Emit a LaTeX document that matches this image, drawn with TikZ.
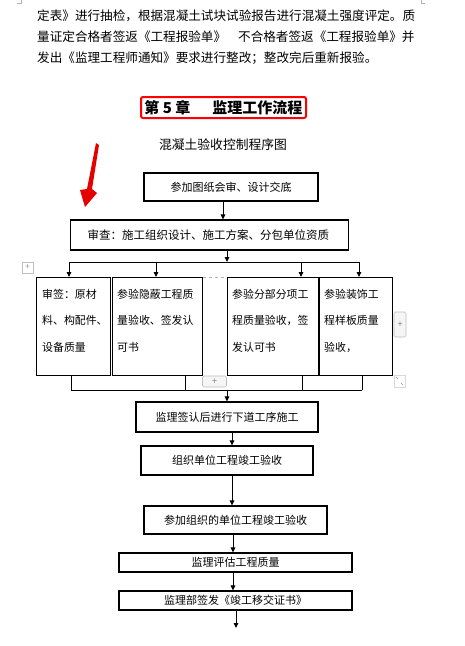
\documentclass[tikz,border=0pt]{standalone}
\usepackage{fontspec}
\setmainfont{Noto Sans CJK SC}
\usetikzlibrary{arrows.meta}
\tikzset{
  box/.style={draw=black, line width=1.1pt, inner sep=0pt, font=\fontsize{11}{13}\selectfont},
  cellbox/.style={draw=black, line width=1.1pt, inner sep=0pt, anchor=north west},
  celltxt/.style={anchor=north west, inner sep=0pt, align=left, font=\fontsize{10.9}{26.5}\selectfont},
  conn/.style={line width=1pt},
  arr/.style={line width=1pt, -{Triangle[length=5pt,width=4.5pt]}},
  para/.style={anchor=west, inner sep=0pt, font=\fontsize{12.6}{14}\selectfont},
  uibtn/.style={draw=black!25, fill=black!4, rounded corners=1.5pt, line width=0.6pt, inner sep=0pt, text=black!50, font=\fontsize{9}{9}\selectfont},
}
\begin{document}
\begin{tikzpicture}[x=1pt,y=-1pt]
\useasboundingbox (0,0) rectangle (465,646);
\fill[white] (0,0) rectangle (465,646);
% page corner marks
\draw[black!30, line width=0.6pt] (21,0) -- (21,3) -- (17,3);
\draw[black!30, line width=0.6pt] (421,0) -- (421,3) -- (425,3);
% paragraph
\node[para] (p1) at (37,16) {定表》进行抽检，根据混凝土试块试验报告进行混凝土强度评定。质};
\node[para] (p2) at (37,37) {量证定合格者签返《工程报验单》\hspace{12pt}不合格者签返《工程报验单》并};
\node[para] (p3) at (37,58) {发出《监理工程师通知》要求进行整改；整改完后重新报验。};
% heading
\node[draw=red, line width=2pt, rounded corners=2pt, minimum width=165pt, minimum height=21pt, inner sep=0pt, font=\fontsize{15}{16}\selectfont\bfseries] (hd) at (223.5,107.5) {第 5 章\hspace{22pt}监理工作流程};
\node[inner sep=0pt, font=\fontsize{12.8}{14}\selectfont] (title) at (223,145) {混凝土验收控制程序图};
% red arrow
\fill[red!90!black] (96,143) -- (99,145) -- (92,189) -- (97,193) -- (85,207) -- (80,190) -- (87,189) -- cycle;
% flow boxes
\node[box, minimum width=174pt, minimum height=28pt] (b1) at (231,187) {参加图纸会审、设计交底};
\node[box, anchor=west, text width=244pt, align=left, inner xsep=17pt, minimum height=30pt, font=\fontsize{11.5}{13}\selectfont] (b2) at (70,235) {审查：施工组织设计、施工方案、分包单位资质};
\draw[arr] (b1.south -| 223,0) -- (b2.north -| 223,0);
% distribution line
\coordinate (dl) at (69,262);
\coordinate (dr) at (359,262);
\coordinate (dc) at (227,262);
\draw[arr] (b2.south -| 227,0) -- (dc);
\draw[conn] (dl) -- (dr);
% cells
\node[cellbox, minimum width=74pt, minimum height=98pt] (cA) at (36,277) {};
\node[cellbox, minimum width=90pt, minimum height=98pt] (cB) at (112,277) {};
\node[cellbox, minimum width=91pt, minimum height=98pt] (cC) at (227,277) {};
\node[cellbox, minimum width=73pt, minimum height=98pt] (cD) at (319,277) {};
\draw[black!30, dashed, line width=0.6pt] (cB.north east) -- (cC.north west);
\node[celltxt] (tA) at (42,289) {审签：原材\\料、构配件、\\设备质量};
\node[celltxt] (tB) at (117,289) {参验隐蔽工程质\\量验收、签发认\\可书};
\node[celltxt] (tC) at (232,289) {参验分部分项工\\程质量验收，签\\发认可书};
\node[celltxt] (tD) at (324,289) {参验装饰工\\程样板质量\\验收，};
\draw[arr] (dl) -- (dl |- cA.north);
\draw[arr] (156,262) -- (156,277);
\draw[arr] (301,262) -- (301,277);
\draw[arr] (dr) -- (dr |- cD.north);
% collect line
\coordinate (cl) at (71,390);
\coordinate (cr) at (362,390);
\draw[conn] (71,375) -- (cl);
\draw[conn] (185,375) -- (185,390);
\draw[conn] (302,375) -- (302,390);
\draw[conn] (362,375) -- (cr);
\draw[conn] (cl) -- (cr);
% lower boxes
\node[box, minimum width=182pt, minimum height=30pt] (b3) at (227,417) {监理签认后进行下道工序施工};
\node[box, minimum width=172pt, minimum height=29pt] (b4) at (227,460.5) {组织单位工程竣工验收};
\node[box, minimum width=183pt, minimum height=28pt] (b5) at (235.5,520) {参加组织的单位工程竣工验收};
\node[box, minimum width=233pt, minimum height=19pt] (b6) at (235.5,562.5) {监理评估工程质量};
\node[box, minimum width=233pt, minimum height=19pt] (b7) at (235.5,600.5) {监理部签发《竣工移交证书》};
\coordinate (end) at (236,628);
\draw[arr] (227,390) -- (b3.north -| 227,0);
\draw[arr] (b3.south -| 232,0) -- (b4.north -| 232,0);
\draw[arr] (b4.south -| 232,0) -- (b5.north -| 232,0);
\draw[arr] (b5.south -| 233,0) -- (b6.north -| 233,0);
\draw[arr] (b6.south -| 233,0) -- (b7.north -| 233,0);
\draw[arr] (b7.south -| 236,0) -- (end);
% Word table UI handles
\node[draw=black!25, line width=0.5pt, minimum width=11pt, minimum height=11pt, inner sep=0pt, text=black!45, font=\fontsize{8}{8}\selectfont] (mv) at (27.5,267.5) {+};
\node[uibtn, minimum width=12pt, minimum height=25pt] (pr) at (400,324.5) {+};
\node[uibtn, minimum width=24pt, minimum height=11pt] (pb) at (214.5,381.5) {+};
\node[draw=black!15, line width=0.5pt, minimum width=11pt, minimum height=12pt, inner sep=0pt] (rs) at (399.5,381) {};
\draw[black!40, line width=0.5pt] (396,377) -- (398,379) (401,383) -- (403,385);
\end{tikzpicture}
\end{document}
